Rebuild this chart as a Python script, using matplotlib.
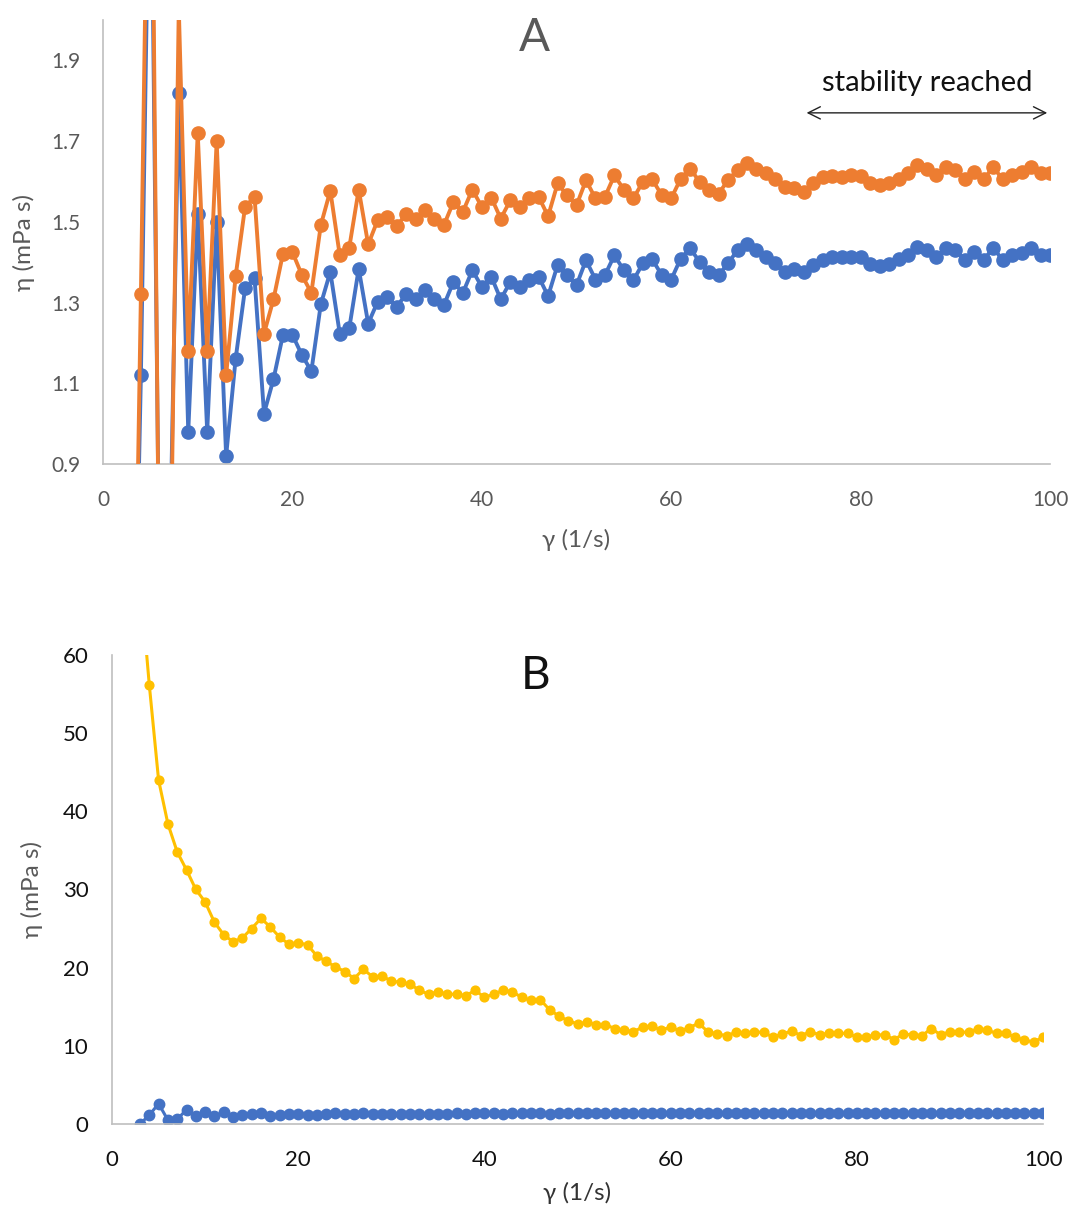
import numpy as np
import matplotlib
matplotlib.use("Agg")
import matplotlib.pyplot as plt

plt.rcParams['font.family'] = ['Lato', 'DejaVu Sans']

# shear rate (1/s), one reading per unit from 3 to 100
shear_rate = list(range(3, 101))

# series 1 (blue), shown in both panels
eta_blue = [
    0.00, 1.12, 2.60, 0.50, 0.60, 1.82, 0.98, 1.52,              # 3-10
    0.98, 1.50, 0.92, 1.16, 1.335, 1.36, 1.025, 1.11, 1.22, 1.22,  # 11-20
    1.17, 1.13, 1.296, 1.376, 1.223, 1.236, 1.384, 1.248, 1.302, 1.314,  # 21-30
    1.289, 1.321, 1.308, 1.331, 1.308, 1.294, 1.351, 1.324, 1.380, 1.339,  # 31-40
    1.364, 1.308, 1.351, 1.339, 1.357, 1.364, 1.316, 1.393, 1.368, 1.343,  # 41-50
    1.405, 1.357, 1.368, 1.417, 1.380, 1.355, 1.397, 1.407, 1.368, 1.357,  # 51-60
    1.409, 1.434, 1.401, 1.376, 1.368, 1.397, 1.430, 1.446, 1.430, 1.413,  # 61-70
    1.397, 1.376, 1.384, 1.376, 1.393, 1.405, 1.412, 1.412, 1.412, 1.412,  # 71-80
    1.395, 1.390, 1.395, 1.407, 1.417, 1.438, 1.430, 1.412, 1.436, 1.430,  # 81-90
    1.405, 1.425, 1.405, 1.436, 1.405, 1.417, 1.422, 1.436, 1.417, 1.417,  # 91-100
]

# series 2 (orange), panel A only
eta_orange = [
    -0.10, 1.32, 2.90, 0.40, 0.40, 2.03, 1.18, 1.72,             # 3-10
    1.18, 1.70, 1.12, 1.365, 1.537, 1.562, 1.223, 1.308, 1.421, 1.425,  # 11-20
    1.368, 1.324, 1.492, 1.577, 1.417, 1.436, 1.580, 1.444, 1.504, 1.511,  # 21-30
    1.489, 1.519, 1.506, 1.530, 1.506, 1.492, 1.549, 1.525, 1.580, 1.537,  # 31-40
    1.560, 1.508, 1.553, 1.537, 1.558, 1.562, 1.514, 1.595, 1.566, 1.541,  # 41-50
    1.603, 1.558, 1.562, 1.615, 1.580, 1.558, 1.599, 1.605, 1.566, 1.558,  # 51-60
    1.607, 1.632, 1.599, 1.578, 1.570, 1.603, 1.629, 1.646, 1.632, 1.620,  # 61-70
    1.607, 1.586, 1.584, 1.574, 1.596, 1.610, 1.613, 1.612, 1.615, 1.613,  # 71-80
    1.596, 1.591, 1.595, 1.605, 1.620, 1.640, 1.632, 1.615, 1.636, 1.628,  # 81-90
    1.605, 1.624, 1.605, 1.636, 1.605, 1.615, 1.624, 1.636, 1.621, 1.620,  # 91-100
]

# series 3 (yellow), panel B only
eta_yellow = [
    70.0, 56.2, 44.0, 38.4, 34.8, 32.5, 30.0, 28.4,              # 3-10
    25.8, 24.2, 23.3, 23.8, 25.0, 26.3, 25.2, 23.9, 23.0, 23.2,  # 11-20
    22.9, 21.5, 20.8, 20.1, 19.5, 18.6, 19.8, 18.8, 18.9, 18.3,  # 21-30
    18.1, 17.9, 17.1, 16.6, 16.9, 16.6, 16.6, 16.4, 17.1, 16.2,  # 31-40
    16.6, 17.1, 16.9, 16.2, 15.8, 15.9, 14.6, 13.8, 13.2, 12.8,  # 41-50
    13.0, 12.7, 12.7, 12.2, 12.0, 11.8, 12.4, 12.5, 12.0, 12.4,  # 51-60
    11.9, 12.3, 12.9, 11.8, 11.5, 11.3, 11.7, 11.6, 11.8, 11.7,  # 61-70
    11.1, 11.5, 11.9, 11.3, 11.8, 11.4, 11.6, 11.6, 11.6, 11.1,  # 71-80
    11.1, 11.4, 11.4, 10.8, 11.5, 11.4, 11.3, 12.2, 11.4, 11.8,  # 81-90
    11.8, 11.7, 12.2, 12.0, 11.6, 11.6, 11.1, 10.7, 10.5, 11.1,  # 91-100
]

ticks_a_x = [0, 20, 40, 60, 80, 100]
ticks_a_y = [0.9, 1.1, 1.3, 1.5, 1.7, 1.9]
ticks_b_y = [0, 10, 20, 30, 40, 50, 60]

blue = "#4472C4"
orange = "#ED7D31"
yellow = "#FFC000"
grey_txt = "#595959"
spine_c = "#BFBFBF"

fig = plt.figure(figsize=(10.72, 12.07), dpi=100)

# ---- panel A
ax1 = fig.add_axes([0.0961, 0.6156, 0.8834, 0.3678])
ax1.plot(shear_rate, eta_blue, color=blue, lw=2.8, marker="o", ms=9.5, zorder=2)
ax1.plot(shear_rate, eta_orange, color=orange, lw=2.8, marker="o", ms=9.5, zorder=3)
ax1.set_xlim(0, 100)
ax1.set_ylim(0.9, 2.0)
ax1.set_xticks(ticks_a_x)
ax1.set_yticks(ticks_a_y)
ax1.set_yticklabels([f"{v:.1f}" for v in ticks_a_y])
ax1.tick_params(length=0, labelsize=15, labelcolor=grey_txt)
ax1.tick_params(axis="x", pad=19)
ax1.tick_params(axis="y", pad=16)
ax1.set_xlabel("γ (1/s)", fontsize=17.5, color=grey_txt, labelpad=13)
ax1.set_ylabel("η (mPa s)", fontsize=17.5, color=grey_txt, labelpad=12)
ax1.text(0.455, 0.96, "A", transform=ax1.transAxes, ha="center", va="center",
         fontsize=33, color=grey_txt)
ax1.text(87.0, 1.845, "stability reached", ha="center", va="center", fontsize=21, color="#111111")
ax1.annotate("", xy=(74.0, 1.77), xytext=(100.0, 1.77),
             arrowprops=dict(arrowstyle="<->", color="#222222", lw=1.0, mutation_scale=22),
             annotation_clip=False)

# ---- panel B
ax2 = fig.add_axes([0.1045, 0.0688, 0.8685, 0.3886])
ax2.plot(shear_rate, eta_blue, color=blue, lw=2.2, marker="o", ms=7.5, zorder=2)
ax2.plot(shear_rate, eta_yellow, color=yellow, lw=2.2, marker="o", ms=6.3, zorder=3)
ax2.set_xlim(0, 100)
ax2.set_ylim(0, 60)
ax2.set_xticks(ticks_a_x)
ax2.set_yticks(ticks_b_y)
ax2.tick_params(length=0, labelsize=16, labelcolor="#111111")
ax2.tick_params(axis="x", pad=19)
ax2.tick_params(axis="y", pad=17)
ax2.set_xlabel("γ (1/s)", fontsize=17.5, color="#333333", labelpad=8)
ax2.set_ylabel("η (mPa s)", fontsize=17.5, color=grey_txt, labelpad=14)
ax2.text(0.455, 0.955, "B", transform=ax2.transAxes, ha="center", va="center",
         fontsize=33, color="#111111")

for ax in (ax1, ax2):
    for side in ("top", "right"):
        ax.spines[side].set_visible(False)
    for side in ("left", "bottom"):
        ax.spines[side].set_color(spine_c)
        ax.spines[side].set_linewidth(1.2)

fig.savefig("out.png", dpi=100)
